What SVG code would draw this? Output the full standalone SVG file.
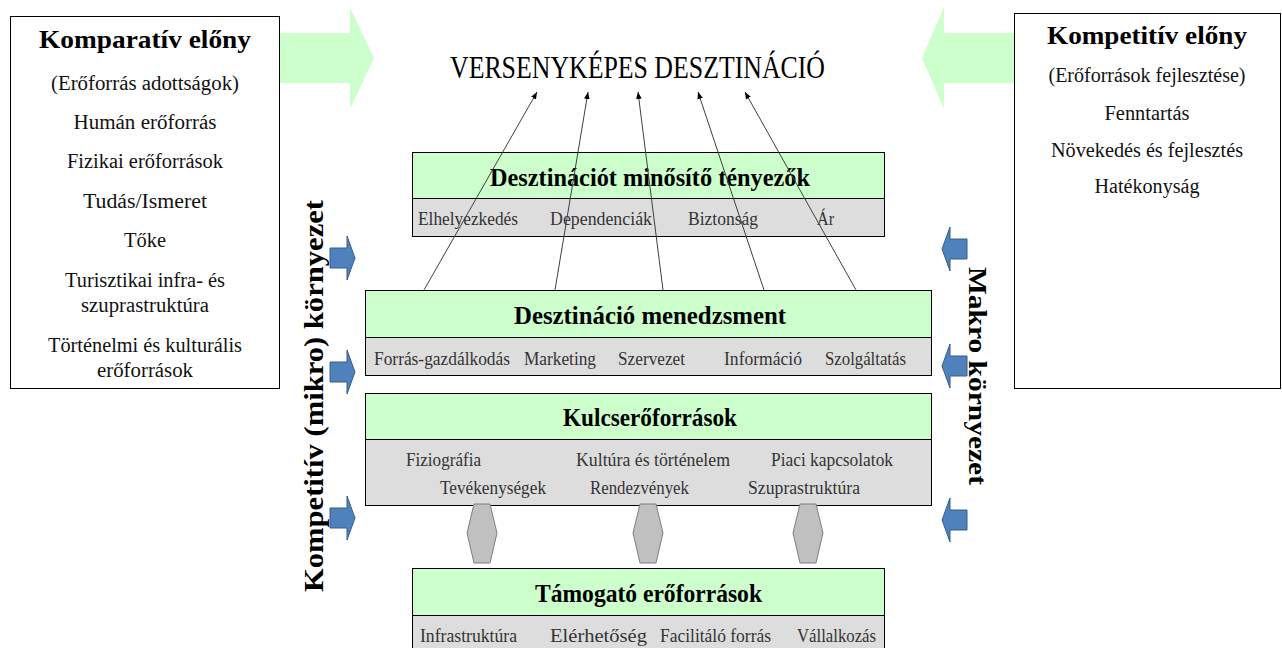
<svg xmlns="http://www.w3.org/2000/svg" width="1282" height="648" viewBox="0 0 1282 648">
  <style>
    .panel { fill:#ffffff; stroke:#000000; stroke-width:1; }
    .head { fill:#ccffcc; stroke:#000000; stroke-width:1; }
    .body { fill:#dddddd; stroke:#000000; stroke-width:1; }
    .bigarrow { fill:#ccffcc; stroke:none; }
    .env { fill:#4f81bd; stroke:#385d8a; stroke-width:1; }
    .hex { fill:#c0c0c0; stroke:#7f7f7f; stroke-width:1; }
    .link { stroke:#404040; stroke-width:1; fill:none; }
    .serif { font-family:"Liberation Serif", "Times New Roman", serif; }
    .ttl { font-family:"Liberation Serif", "Times New Roman", serif; font-weight:bold; font-size:26px; fill:#000; }
    .itm { font-family:"Liberation Serif", "Times New Roman", serif; font-size:18.5px; fill:#333; }
    .pl { font-family:"Liberation Serif", "Times New Roman", serif; font-size:20.5px; fill:#111; text-anchor:middle; }
    .pt { font-family:"Liberation Serif", "Times New Roman", serif; font-size:26px; font-weight:bold; fill:#000; text-anchor:middle; }
    .side { font-family:"Liberation Serif", "Times New Roman", serif; font-weight:bold; fill:#000; text-anchor:middle; }
  </style>
  <defs>
    <marker id="tip" viewBox="0 0 10 10" refX="10" refY="5" markerWidth="7" markerHeight="7" markerUnits="userSpaceOnUse" orient="auto">
      <path d="M0,1 L10,5 L0,9 Z" fill="#000"/>
    </marker>
    <!-- small blue block arrow pointing right, tip at (25,0) -->
    <path id="envR" d="M0,-10 L17,-10 L17,-22 L25,0 L17,22 L17,10 L0,10 Z"/>
    <!-- hexagonal link between resource layers -->
    <path id="hx" d="M-8,0 L8,0 L15,29 L8,59 L-8,59 L-15,29 Z"/>
  </defs>

  <!-- large green arrows feeding the central title -->
  <g id="arrow-comparative">
    <path class="bigarrow" d="M280,33 L350,33 L350,8 L374,58 L350,109 L350,83 L280,83 Z"/>
  </g>
  <g id="arrow-competitive">
    <path class="bigarrow" d="M1014,33 L944,33 L944,7 L922,58 L944,109 L944,83 L1014,83 Z"/>
  </g>

  <!-- left panel -->
  <g id="comparative">
    <rect class="panel" x="10.5" y="16.5" width="269" height="372"/>
    <text class="pt" x="145" y="48" textLength="212" lengthAdjust="spacingAndGlyphs">Komparatív előny</text>
    <text class="pl" x="145" y="90" textLength="188" lengthAdjust="spacingAndGlyphs">(Erőforrás adottságok)</text>
    <text class="pl" x="145" y="129" textLength="143" lengthAdjust="spacingAndGlyphs">Humán erőforrás</text>
    <text class="pl" x="145" y="168" textLength="156" lengthAdjust="spacingAndGlyphs">Fizikai erőforrások</text>
    <text class="pl" x="145" y="208" textLength="124" lengthAdjust="spacingAndGlyphs">Tudás/Ismeret</text>
    <text class="pl" x="145" y="247" textLength="42" lengthAdjust="spacingAndGlyphs">Tőke</text>
    <text class="pl" x="145" y="287" textLength="160" lengthAdjust="spacingAndGlyphs">Turisztikai infra- és</text>
    <text class="pl" x="145" y="312" textLength="128" lengthAdjust="spacingAndGlyphs">szuprastruktúra</text>
    <text class="pl" x="145" y="352" textLength="194" lengthAdjust="spacingAndGlyphs">Történelmi és kulturális</text>
    <text class="pl" x="145" y="377" textLength="96" lengthAdjust="spacingAndGlyphs">erőforrások</text>
  </g>

  <!-- right panel -->
  <g id="competitive">
    <rect class="panel" x="1014.5" y="13.5" width="266" height="375"/>
    <text class="pt" x="1147" y="44" textLength="200" lengthAdjust="spacingAndGlyphs">Kompetitív előny</text>
    <text class="pl" x="1147" y="82" textLength="197" lengthAdjust="spacingAndGlyphs">(Erőforrások fejlesztése)</text>
    <text class="pl" x="1147" y="120" textLength="85" lengthAdjust="spacingAndGlyphs">Fenntartás</text>
    <text class="pl" x="1147" y="157" textLength="192" lengthAdjust="spacingAndGlyphs">Növekedés és fejlesztés</text>
    <text class="pl" x="1147" y="193" textLength="105" lengthAdjust="spacingAndGlyphs">Hatékonyság</text>
  </g>

  <!-- goal -->
  <g id="goal">
    <text class="serif" x="450" y="78" font-size="31" fill="#000" textLength="375" lengthAdjust="spacingAndGlyphs">VERSENYKÉPES DESZTINÁCIÓ</text>
  </g>

  <!-- qualifying and amplifying determinants -->
  <g id="qualifying">
    <rect class="head" x="412.5" y="152.5" width="472" height="46"/>
    <rect class="body" x="412.5" y="198.5" width="472" height="38"/>
    <text class="ttl" x="490" y="186" textLength="320" lengthAdjust="spacingAndGlyphs">Desztinációt minősítő tényezők</text>
    <text class="itm" x="418" y="225" textLength="100" lengthAdjust="spacingAndGlyphs">Elhelyezkedés</text>
    <text class="itm" x="550" y="225" textLength="102" lengthAdjust="spacingAndGlyphs">Dependenciák</text>
    <text class="itm" x="688" y="225" textLength="70" lengthAdjust="spacingAndGlyphs">Biztonság</text>
    <text class="itm" x="817" y="225" textLength="17" lengthAdjust="spacingAndGlyphs">Ár</text>
  </g>

  <!-- destination management -->
  <g id="management">
    <rect class="head" x="365.5" y="290.5" width="566" height="47"/>
    <rect class="body" x="365.5" y="337.5" width="566" height="38"/>
    <text class="ttl" x="514" y="324" textLength="272" lengthAdjust="spacingAndGlyphs">Desztináció menedzsment</text>
    <text class="itm" x="374" y="365" textLength="136" lengthAdjust="spacingAndGlyphs">Forrás-gazdálkodás</text>
    <text class="itm" x="524" y="365" textLength="72" lengthAdjust="spacingAndGlyphs">Marketing</text>
    <text class="itm" x="618" y="365" textLength="67" lengthAdjust="spacingAndGlyphs">Szervezet</text>
    <text class="itm" x="724" y="365" textLength="78" lengthAdjust="spacingAndGlyphs">Információ</text>
    <text class="itm" x="825" y="365" textLength="81" lengthAdjust="spacingAndGlyphs">Szolgáltatás</text>
  </g>

  <!-- core resources and attractors -->
  <g id="core">
    <rect class="head" x="365.5" y="393.5" width="566" height="46"/>
    <rect class="body" x="365.5" y="439.5" width="566" height="66"/>
    <text class="ttl" x="563" y="426" textLength="174" lengthAdjust="spacingAndGlyphs">Kulcserőforrások</text>
    <text class="itm" x="406" y="466" textLength="75" lengthAdjust="spacingAndGlyphs">Fiziográfia</text>
    <text class="itm" x="576" y="466" textLength="154" lengthAdjust="spacingAndGlyphs">Kultúra és történelem</text>
    <text class="itm" x="771" y="466" textLength="122" lengthAdjust="spacingAndGlyphs">Piaci kapcsolatok</text>
    <text class="itm" x="440" y="494" textLength="106" lengthAdjust="spacingAndGlyphs">Tevékenységek</text>
    <text class="itm" x="590" y="494" textLength="99" lengthAdjust="spacingAndGlyphs">Rendezvények</text>
    <text class="itm" x="748" y="494" textLength="112" lengthAdjust="spacingAndGlyphs">Szuprastruktúra</text>
  </g>

  <!-- supporting factors -->
  <g id="supporting">
    <rect class="head" x="412.5" y="568.5" width="472" height="47"/>
    <rect class="body" x="412.5" y="615.5" width="472" height="40"/>
    <text class="ttl" x="535" y="602" textLength="227" lengthAdjust="spacingAndGlyphs">Támogató erőforrások</text>
    <text class="itm" x="420" y="642" textLength="97" lengthAdjust="spacingAndGlyphs">Infrastruktúra</text>
    <text class="itm" x="550" y="642" textLength="97" lengthAdjust="spacingAndGlyphs">Elérhetőség</text>
    <text class="itm" x="660" y="642" textLength="111" lengthAdjust="spacingAndGlyphs">Facilitáló forrás</text>
    <text class="itm" x="797" y="642" textLength="79" lengthAdjust="spacingAndGlyphs">Vállalkozás</text>
  </g>

  <!-- environment labels and their arrows -->
  <g id="micro-environment">
    <text class="side" font-size="27" transform="translate(323,396) rotate(-90)" textLength="392" lengthAdjust="spacingAndGlyphs">Kompetitív (mikro) környezet</text>
    <use href="#envR" class="env" transform="translate(330,258)"/>
    <use href="#envR" class="env" transform="translate(330,372)"/>
    <use href="#envR" class="env" transform="translate(330,518)"/>
  </g>
  <g id="macro-environment">
    <text class="side" font-size="25" transform="translate(969,376) rotate(90)" textLength="218" lengthAdjust="spacingAndGlyphs">Makro környezet</text>
    <use href="#envR" class="env" transform="translate(967,249) scale(-1,1)"/>
    <use href="#envR" class="env" transform="translate(967,366) scale(-1,1)"/>
    <use href="#envR" class="env" transform="translate(967,520) scale(-1,1)"/>
  </g>

  <!-- connectors -->
  <g id="connectors">
    <line class="link" x1="424" y1="290" x2="537" y2="92" marker-end="url(#tip)"/>
    <line class="link" x1="555" y1="290" x2="588" y2="92" marker-end="url(#tip)"/>
    <line class="link" x1="663" y1="290" x2="638" y2="92" marker-end="url(#tip)"/>
    <line class="link" x1="764" y1="290" x2="698" y2="92" marker-end="url(#tip)"/>
    <line class="link" x1="856" y1="290" x2="745" y2="92" marker-end="url(#tip)"/>
    <use href="#hx" class="hex" transform="translate(482,504)"/>
    <use href="#hx" class="hex" transform="translate(648,504)"/>
    <use href="#hx" class="hex" transform="translate(808,504)"/>
  </g>
</svg>
